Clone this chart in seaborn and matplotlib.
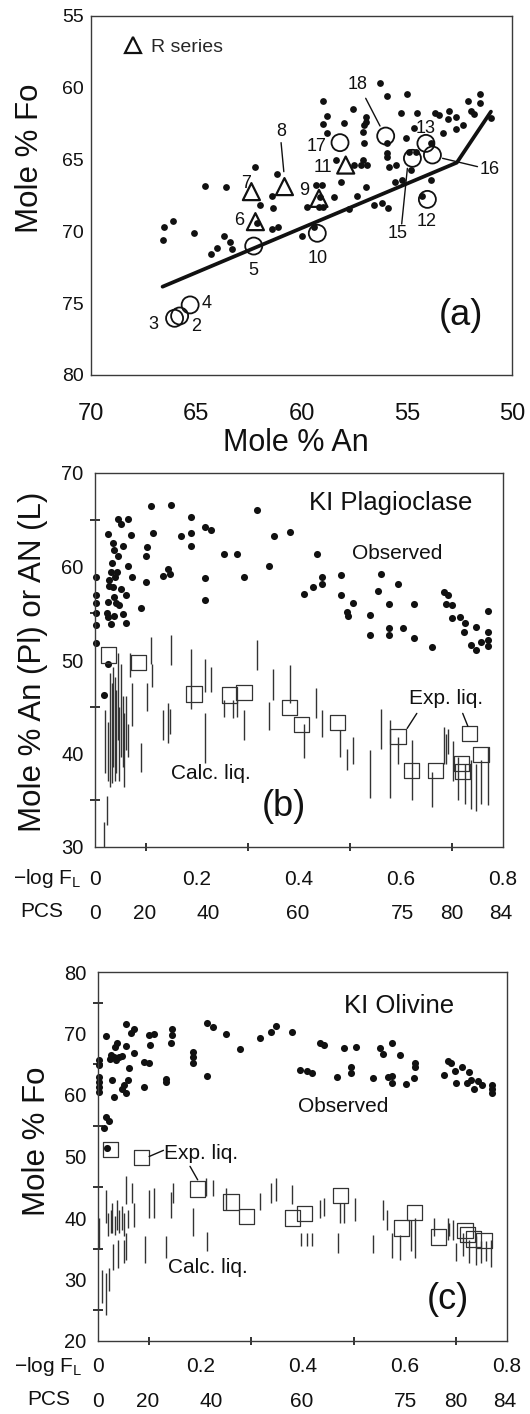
import numpy as np
import matplotlib
matplotlib.use("Agg")
import matplotlib.pyplot as plt
from matplotlib.lines import Line2D
import seaborn as sns

sns.set_theme(style="ticks")
plt.rcParams["font.family"] = ["Liberation Sans", "DejaVu Sans"]
plt.rcParams["mathtext.fontset"] = "custom"
plt.rcParams["mathtext.rm"] = "Liberation Sans"
plt.rcParams["mathtext.it"] = "Liberation Sans:italic"
plt.rcParams["mathtext.bf"] = "Liberation Sans:bold"

# ---------------- Panel (a): Mole % An vs Mole % Fo ----------------
a_dot_an = [56.27, 55.95, 54.97, 58.97, 57.57, 51.51, 51.51, 52.11, 58.78, 56.94,
            56.94, 57.03, 57.98, 58.97, 58.78, 57.06, 55.29, 54.49, 53.67, 53.46,
            52.98, 52.67, 53.03, 51.95, 51.79, 51.00, 52.35, 52.67, 53.30, 54.65,
            55.05, 57.03, 55.92, 55.92, 55.92, 55.84, 55.53, 57.06, 57.19, 56.91,
            57.51, 54.89, 54.57, 53.86, 54.78, 53.86, 55.21, 55.56, 54.26, 56.16,
            55.89, 56.56, 56.95, 57.35, 57.75, 58.14, 58.46, 58.38, 59.02, 59.33,
            59.10, 59.17, 59.76, 58.97, 59.41, 59.97, 61.16, 61.40, 61.37, 61.11,
            61.40, 62.19, 61.98, 62.11, 63.57, 64.60, 66.11, 66.51, 66.59, 65.10,
            63.70, 63.41, 63.30, 64.02, 64.30]
a_dot_fo = [59.64, 60.57, 60.43, 60.92, 61.50, 60.43, 61.03, 60.92, 61.96, 62.01,
            62.36, 62.59, 62.43, 62.52, 63.12, 63.05, 61.73, 61.78, 61.73, 61.89,
            61.59, 62.01, 62.20, 61.59, 61.82, 62.08, 62.59, 62.89, 63.12, 62.82,
            63.52, 63.87, 63.82, 64.56, 64.84, 65.54, 65.38, 65.03, 65.38, 65.38,
            65.38, 64.45, 64.45, 63.82, 65.72, 66.42, 66.42, 66.54, 67.53, 68.05,
            68.39, 68.16, 66.88, 67.53, 68.46, 66.54, 67.58, 65.03, 66.77, 66.77,
            67.58, 68.28, 68.28, 68.28, 69.67, 70.32, 66.00, 67.53, 68.39, 69.67,
            69.86, 65.54, 68.16, 69.44, 66.93, 66.84, 69.25, 69.67, 70.60, 70.13,
            70.30, 70.71, 71.25, 71.18, 71.57]

a_circ_id = ["2", "3", "4", "5", "10", "12", "13", "15", "16", "17", "18"]
a_circ_an = [65.79, 66.03, 65.29, 62.27, 59.25, 54.02, 54.09, 54.73, 53.78, 58.17, 56.00]
a_circ_fo = [75.89, 76.05, 75.12, 71.02, 70.13, 67.77, 63.87, 64.91, 64.68, 63.82, 63.36]

a_tri_id = ["6", "7", "8", "9", "11"]
a_tri_an = [62.19, 62.38, 60.81, 59.17, 57.90]
a_tri_fo = [69.32, 67.23, 66.88, 67.70, 65.38]

a_trend_an = [66.60, 52.62, 51.00]
a_trend_fo = [73.85, 65.21, 61.66]

a_lab_txt = ["2", "3", "4", "5", "6", "7", "8", "9", "10", "11", "12", "13", "15", "16", "17", "18"]
a_lab_an = [65.00, 67.03, 64.49, 62.27, 62.98, 62.62, 60.97, 59.89, 59.25, 58.97, 54.05, 54.09, 55.44, 51.08, 59.29, 57.35]
a_lab_fo = [76.59, 76.45, 75.01, 72.69, 69.21, 66.65, 63.01, 67.16, 71.87, 65.54, 69.32, 62.82, 70.18, 65.68, 64.10, 59.80]

a_lead_an0 = [60.97, 56.95, 53.30, 55.24]
a_lead_fo0 = [63.82, 60.73, 64.91, 69.48]
a_lead_an1 = [60.84, 56.27, 51.64, 54.97]
a_lead_fo1 = [65.84, 62.66, 65.49, 65.61]

# ---------------- Panel (b): KI Plagioclase ----------------
b_dot_x = [0.110, 0.149, 0.318, 0.046, 0.065, 0.050, 0.188, 0.215, 0.228, 0.026,
           0.071, 0.114, 0.168, 0.188, 0.350, 0.383, 0.035, 0.055, 0.037, 0.102,
           0.188, 0.100, 0.046, 0.252, 0.278, 0.436, 0.033, 0.065, 0.031, 0.044,
           0.002, 0.072, 0.143, 0.134, 0.148, 0.215, 0.292, 0.341, 0.100, 0.039,
           0.028, 0.446, 0.483, 0.560, 0.446, 0.594, 0.428, 0.410, 0.483, 0.555,
           0.035, 0.050, 0.028, 0.002, 0.060, 0.037, 0.002, 0.025, 0.041, 0.047,
           0.215, 0.091, 0.506, 0.577, 0.625, 0.685, 0.692, 0.689, 0.700, 0.002,
           0.023, 0.037, 0.054, 0.026, 0.495, 0.497, 0.539, 0.715, 0.700, 0.002,
           0.031, 0.060, 0.577, 0.577, 0.603, 0.725, 0.747, 0.771, 0.723, 0.771,
           0.539, 0.625, 0.660, 0.737, 0.757, 0.747, 0.771, 0.771, 0.002, 0.026,
           0.017]
b_dot_y = [66.50, 66.61, 66.07, 65.07, 65.07, 64.57, 65.25, 64.21, 63.93, 63.50,
           63.39, 63.57, 63.29, 63.57, 63.21, 63.64, 62.50, 62.14, 61.79, 62.07,
           62.14, 61.07, 61.14, 61.36, 61.36, 61.36, 60.36, 60.00, 59.46, 59.46,
           58.93, 58.93, 59.71, 59.00, 59.21, 58.75, 58.93, 60.00, 58.39, 58.93,
           58.57, 58.93, 59.11, 59.21, 58.14, 58.14, 57.79, 57.07, 56.96, 57.43,
           57.86, 57.57, 57.93, 56.96, 56.96, 56.79, 56.14, 56.25, 56.14, 55.89,
           56.43, 55.54, 56.14, 55.96, 55.96, 57.32, 56.96, 55.96, 55.89, 55.00,
           55.00, 54.71, 54.89, 54.64, 55.18, 54.75, 54.86, 54.64, 54.46, 53.75,
           53.86, 53.93, 53.39, 52.68, 53.46, 53.93, 53.50, 55.29, 53.04, 52.96,
           52.68, 52.32, 51.43, 51.61, 51.96, 51.07, 52.14, 51.50, 51.79, 49.57,
           46.25]

b_sq_x = [0.026, 0.085, 0.194, 0.263, 0.292, 0.381, 0.405, 0.475, 0.594, 0.621, 0.668, 0.719, 0.721, 0.734, 0.757]
b_sq_y = [50.54, 49.71, 46.36, 46.25, 46.50, 44.89, 43.14, 43.29, 41.86, 38.14, 38.21, 38.93, 38.04, 42.14, 39.93]

b_ln_x = [0.018, 0.0245, 0.020, 0.026, 0.029, 0.033, 0.036, 0.039, 0.042, 0.046,
          0.048, 0.050, 0.054, 0.057, 0.060, 0.065, 0.068, 0.073, 0.091, 0.102,
          0.112, 0.134, 0.143, 0.148, 0.110, 0.149, 0.188, 0.215, 0.228, 0.215,
          0.252, 0.270, 0.278, 0.292, 0.318, 0.341, 0.349, 0.383, 0.410, 0.433,
          0.446, 0.481, 0.495, 0.506, 0.539, 0.560, 0.579, 0.594, 0.621, 0.660,
          0.684, 0.689, 0.692, 0.702, 0.712, 0.725, 0.737, 0.747, 0.757, 0.771]
b_ln_lo = [30.0, 32.3, 37.9, 37.1, 36.4, 36.8, 38.6, 37.1, 37.9, 41.4,
           37.1, 39.6, 38.6, 36.4, 40.4, 39.6, 48.2, 42.9, 38.0, 44.5,
           47.1, 41.4, 41.1, 42.1, 49.6, 49.5, 44.8, 46.6, 46.6, 39.0,
           43.9, 43.8, 43.9, 41.4, 48.9, 42.5, 45.7, 45.4, 39.5, 43.8,
           41.8, 39.6, 38.2, 38.9, 35.2, 40.5, 35.2, 38.9, 35.0, 34.3,
           38.9, 38.9, 39.9, 37.1, 35.0, 34.6, 34.1, 33.8, 34.6, 34.5]
b_ln_hi = [32.7, 35.5, 44.6, 43.4, 48.6, 47.5, 49.3, 48.2, 46.8, 50.7,
           45.0, 49.6, 46.1, 44.3, 46.1, 43.2, 50.7, 47.5, 41.1, 47.5,
           49.6, 44.6, 45.4, 44.8, 52.5, 52.7, 51.2, 50.1, 49.3, 44.3,
           45.7, 45.7, 45.7, 44.6, 52.1, 45.5, 49.0, 49.5, 43.2, 47.0,
           44.6, 42.5, 40.5, 41.8, 40.4, 44.8, 43.6, 41.8, 41.4, 38.0,
           42.8, 42.1, 42.6, 41.3, 39.6, 38.9, 39.3, 38.9, 39.3, 40.7]

# ---------------- Panel (c): KI Olivine ----------------
c_dot_x = [0.054, 0.070, 0.065, 0.016, 0.100, 0.109, 0.145, 0.144, 0.214, 0.225,
           0.251, 0.348, 0.338, 0.380, 0.317, 0.037, 0.033, 0.054, 0.102, 0.143,
           0.277, 0.434, 0.443, 0.482, 0.505, 0.551, 0.576, 0.558, 0.591, 0.025,
           0.031, 0.041, 0.047, 0.070, 0.023, 0.036, 0.186, 0.186, 0.186, 0.001,
           0.001, 0.089, 0.099, 0.621, 0.621, 0.684, 0.690, 0.699, 0.712, 0.495,
           0.495, 0.396, 0.408, 0.419, 0.060, 0.001, 0.001, 0.001, 0.001, 0.027,
           0.059, 0.133, 0.133, 0.214, 0.467, 0.537, 0.568, 0.576, 0.619, 0.677,
           0.700, 0.725, 0.729, 0.721, 0.744, 0.752, 0.771, 0.771, 0.771, 0.736,
           0.576, 0.602, 0.050, 0.047, 0.089, 0.054, 0.031, 0.015, 0.021, 0.012,
           0.018]
c_dot_y = [71.54, 70.67, 70.13, 69.59, 69.75, 69.86, 70.67, 69.75, 71.65, 71.10,
           69.86, 71.21, 70.29, 70.29, 69.21, 68.51, 67.75, 67.97, 68.13, 68.40,
           67.48, 68.40, 68.13, 67.59, 67.86, 67.59, 68.40, 66.67, 66.51, 66.51,
           66.13, 66.13, 66.34, 66.78, 65.80, 65.70, 67.05, 66.13, 65.26, 65.70,
           64.88, 65.42, 65.15, 65.26, 64.50, 65.58, 65.15, 63.96, 64.50, 64.61,
           63.53, 64.07, 63.96, 63.64, 64.34, 62.98, 62.18, 61.37, 60.56, 62.45,
           62.45, 62.55, 62.12, 63.10, 62.99, 62.82, 62.99, 63.10, 62.72, 63.26,
           61.91, 63.80, 62.45, 61.91, 62.34, 61.64, 61.64, 60.94, 60.40, 61.02,
           61.91, 61.80, 61.64, 60.94, 61.26, 60.40, 59.64, 56.50, 55.85, 54.60,
           51.35]

c_sq_x = [0.025, 0.085, 0.195, 0.260, 0.290, 0.380, 0.404, 0.474, 0.593, 0.619, 0.666, 0.718, 0.723, 0.734, 0.755]
c_sq_y = [51.19, 49.89, 44.70, 42.59, 40.26, 39.99, 40.69, 43.61, 38.37, 40.91, 36.90, 37.98, 37.28, 36.57, 36.36]

c_ln_x = [0.015, 0.020, 0.025, 0.028, 0.033, 0.037, 0.042, 0.046, 0.050, 0.054,
          0.059, 0.067, 0.070, 0.100, 0.109, 0.143, 0.147, 0.212, 0.225, 0.251,
          0.317, 0.338, 0.348, 0.380, 0.435, 0.442, 0.482, 0.503, 0.558, 0.566,
          0.658, 0.684, 0.687, 0.694, 0.008, 0.016, 0.021, 0.029, 0.039, 0.050,
          0.054, 0.092, 0.133, 0.186, 0.214, 0.398, 0.408, 0.419, 0.469, 0.537,
          0.576, 0.591, 0.613, 0.621, 0.474, 0.700, 0.713, 0.726, 0.739, 0.749,
          0.758, 0.768, 0.001]
c_ln_lo = [39.2, 37.0, 37.6, 37.6, 37.3, 38.1, 37.6, 38.1, 37.0, 42.2,
           38.4, 42.4, 38.6, 40.0, 40.0, 40.0, 42.4, 43.5, 43.5, 41.3,
           41.3, 42.4, 42.7, 42.2, 40.0, 40.3, 39.2, 39.5, 39.7, 38.1,
           37.0, 36.5, 37.0, 36.5, 26.2, 24.3, 28.1, 31.6, 31.9, 32.7,
           33.2, 32.7, 33.5, 37.0, 34.6, 35.4, 35.4, 35.4, 34.3, 34.3,
           33.5, 33.2, 34.6, 33.5, 39.2, 33.0, 33.8, 32.7, 32.4, 32.7,
           33.0, 32.1, 35.0]
c_ln_hi = [44.5, 40.8, 41.3, 42.4, 40.4, 43.0, 41.3, 41.9, 40.8, 46.8,
           41.3, 45.7, 42.4, 44.6, 44.9, 44.3, 45.7, 46.5, 46.2, 44.9,
           44.1, 45.7, 46.5, 45.4, 43.0, 43.2, 42.4, 43.2, 43.0, 41.3,
           40.0, 40.0, 39.2, 39.7, 31.6, 31.1, 31.9, 35.7, 36.5, 36.5,
           37.6, 37.0, 37.0, 41.6, 37.8, 37.6, 37.6, 37.6, 37.6, 37.3,
           37.6, 37.3, 39.7, 40.0, 42.4, 35.9, 37.6, 36.5, 37.0, 36.2,
           36.2, 36.5, 40.0]

pcs_ticks = [0, 20, 40, 60, 75, 80, 84]
fl_ticks = [0, 0.2, 0.4, 0.6, 0.8]
fl_ticklabels = ["0", "0.2", "0.4", "0.6", "0.8"]

# ---------------- Layout helpers ----------------
W, H = 530, 1414
INK = "#111111"
LINEC = "#333333"
SPINEC = "#3a3a3a"


def rect(l, t, r, b):
    return [l / W, 1 - b / H, (r - l) / W, (b - t) / H]


def fx(px):
    return px / W


def fy(py):
    return 1 - py / H


def fl_to_pcs(x):
    return 100.0 * (1.0 - np.power(10.0, -np.asarray(x, dtype=float)))


def pcs_to_fl(p):
    return -np.log10(np.clip(1.0 - np.asarray(p, dtype=float) / 100.0, 1e-9, None))


def style_spines(ax):
    for s in ax.spines.values():
        s.set_visible(True)
        s.set_color(SPINEC)
        s.set_linewidth(1.0)


fig = plt.figure(figsize=(W / 100, H / 100), dpi=100)
fig.patch.set_facecolor("white")

# ================= Panel (a) =================
ax = fig.add_axes(rect(91, 16, 512, 375))
style_spines(ax)
sns.lineplot(x=a_trend_an, y=a_trend_fo, sort=False, estimator=None, ax=ax,
             color=INK, linewidth=2.7, legend=False)
sns.scatterplot(x=a_dot_an, y=a_dot_fo, ax=ax, color=INK, s=24, linewidth=0, legend=False)
sns.scatterplot(x=a_circ_an, y=a_circ_fo, ax=ax, marker="o", s=150,
                facecolor="none", edgecolor=INK, linewidth=1.3, legend=False)
sns.scatterplot(x=a_tri_an, y=a_tri_fo, ax=ax, marker="^", s=150,
                facecolor="none", edgecolor=INK, linewidth=1.6, legend=False)
for x0, y0, x1, y1 in zip(a_lead_an0, a_lead_fo0, a_lead_an1, a_lead_fo1):
    ax.plot([x0, x1], [y0, y1], color=INK, linewidth=1.0)
for t, x, y in zip(a_lab_txt, a_lab_an, a_lab_fo):
    ax.text(x, y, t, fontsize=13, ha="center", va="center", color=INK)
ax.text(52.43, 75.85, "(a)", fontsize=26, ha="center", va="center", color=INK)
leg_handle = Line2D([], [], marker="^", linestyle="none", markerfacecolor="none",
                    markeredgecolor=INK, markersize=12, markeredgewidth=1.6)
ax.legend(handles=[leg_handle], labels=["R series"], loc="center left",
          bbox_to_anchor=((123 - 91) / 421, 1 - (46.7 - 16) / 359), frameon=False,
          fontsize=14, handlelength=1.0, handletextpad=0.45, borderpad=0, borderaxespad=0)
ax.set_xlim(70, 50)
ax.set_ylim(80, 55)
ax.set_xticks([70, 65, 60, 55, 50])
ax.set_xticklabels(["70", "65", "60", "55", "50"])
ax.set_xticks([65, 60, 55], minor=True)
ax.set_yticks([55, 60, 65, 70, 75, 80])
ax.set_yticklabels(["55", "60", "65", "70", "75", "80"])
ax.set_yticks([60, 65, 70, 75], minor=True)
ax.tick_params(axis="x", which="major", length=0, pad=20, labelsize=17, labelcolor=INK)
ax.tick_params(axis="x", which="minor", direction="inout", length=8.6, width=1.1, color=INK)
ax.tick_params(axis="y", which="major", length=0, pad=5, labelsize=14, labelcolor=INK)
ax.tick_params(axis="y", which="minor", direction="inout", length=6.0, width=1.1, color=INK)
ax.set_xlabel("")
ax.set_ylabel("")
fig.text(fx(296), fy(443), "Mole % An", fontsize=22, ha="center", va="center", color=INK)
fig.text(fx(30), fy(158), "Mole % Fo", fontsize=22.5, ha="center", va="center",
         rotation=90, color=INK)


def panel_b_c(ax, dx, dy, sx, sy, lx, llo, lhi, ylim, ymaj, ymin_, xpad, pcs_loc):
    style_spines(ax)
    ax.vlines(lx, llo, lhi, color=LINEC, linewidth=1.0)
    sns.scatterplot(x=dx, y=dy, ax=ax, color=INK, s=26, linewidth=0, legend=False, clip_on=False)
    sns.scatterplot(x=sx, y=sy, ax=ax, marker="s", s=120, facecolor="none",
                    edgecolor=LINEC, linewidth=0.9, legend=False)
    ax.set_xlim(0, 0.8)
    ax.set_ylim(*ylim)
    ax.set_xticks(fl_ticks)
    ax.set_xticklabels(fl_ticklabels)
    ax.set_xticks([0.1, 0.3, 0.5, 0.7], minor=True)
    ax.set_yticks(ymaj)
    ax.set_yticklabels([str(v) for v in ymaj])
    ax.set_yticks(ymin_, minor=True)
    ax.tick_params(axis="x", which="major", length=0, pad=xpad, labelsize=15, labelcolor=INK)
    ax.tick_params(axis="x", which="minor", direction="inout", length=6.0, width=1.2, color=INK)
    ax.tick_params(axis="y", which="major", length=0, pad=8.3, labelsize=14.5, labelcolor=INK)
    ax.tick_params(axis="y", which="minor", direction="inout", length=7.0, width=1.2, color=INK)
    ax.set_xlabel("")
    ax.set_ylabel("")
    sec = ax.secondary_xaxis(pcs_loc, functions=(fl_to_pcs, pcs_to_fl))
    sec.set_xticks(pcs_ticks, labels=[str(v) for v in pcs_ticks])
    sec.tick_params(axis="x", which="both", length=0, pad=1.5, labelsize=15, labelcolor=INK)
    for s in sec.spines.values():
        s.set_visible(False)
    return sec


# ================= Panel (b) =================
axb = fig.add_axes(rect(95, 473, 503, 847))
panel_b_c(axb, b_dot_x, b_dot_y, b_sq_x, b_sq_y, b_ln_x, b_ln_lo, b_ln_hi,
          (30, 70), [30, 40, 50, 60, 70], [35, 45, 55, 65], 16.5, -(902 - 847) / 374)
axb.plot([0.631, 0.612], [44.29, 42.68], color=INK, linewidth=1.0)
axb.plot([0.721, 0.731], [44.29, 42.93], color=INK, linewidth=1.0)
axb.text(0.579, 66.8, "KI Plagioclase", fontsize=18.5, ha="center", va="center", color=INK)
axb.text(0.592, 61.36, "Observed", fontsize=15, ha="center", va="center", color=INK)
axb.text(0.689, 45.9, "Exp. liq.", fontsize=15, ha="center", va="center", color=INK)
axb.text(0.228, 37.86, "Calc. liq.", fontsize=15, ha="center", va="center", color=INK)
axb.text(0.370, 34.3, "(b)", fontsize=26, ha="center", va="center", color=INK)
fig.text(fx(33), fy(662), "Mole % An (Pl) or AN (L)", fontsize=22.5, ha="center",
         va="center", rotation=90, color=INK)
fig.text(fx(81), fy(884), r"$\mathregular{-log\ F_L}$", fontsize=15, ha="right",
         va="baseline", color=INK)
fig.text(fx(63), fy(917), "PCS", fontsize=15, ha="right", va="baseline", color=INK)

# ================= Panel (c) =================
axc = fig.add_axes(rect(98, 972, 507, 1341))
panel_b_c(axc, c_dot_x, c_dot_y, c_sq_x, c_sq_y, c_ln_x, c_ln_lo, c_ln_hi,
          (20, 80), [20, 30, 40, 50, 60, 70, 80], [25, 35, 45, 55, 65, 75], 11.5,
          -(1390 - 1341) / 369)
axc.plot([0.100, 0.128], [50.0, 51.0], color=INK, linewidth=1.0)
axc.plot([0.180, 0.195], [48.4, 46.2], color=INK, linewidth=1.0)
axc.text(0.589, 74.46, "KI Olivine", fontsize=18.5, ha="center", va="center", color=INK)
axc.text(0.480, 58.1, "Observed", fontsize=15, ha="center", va="center", color=INK)
axc.text(0.202, 50.5, "Exp. liq.", fontsize=15, ha="center", va="center", color=INK)
axc.text(0.215, 31.87, "Calc. liq.", fontsize=15, ha="center", va="center", color=INK)
axc.text(0.684, 26.73, "(c)", fontsize=26, ha="center", va="center", color=INK)
fig.text(fx(37), fy(1141), "Mole % Fo", fontsize=22.5, ha="center", va="center",
         rotation=90, color=INK)
fig.text(fx(82), fy(1372), r"$\mathregular{-log\ F_L}$", fontsize=15, ha="right",
         va="baseline", color=INK)
fig.text(fx(70), fy(1405), "PCS", fontsize=15, ha="right", va="baseline", color=INK)

fig.savefig("out.png", dpi=100, facecolor="white")
